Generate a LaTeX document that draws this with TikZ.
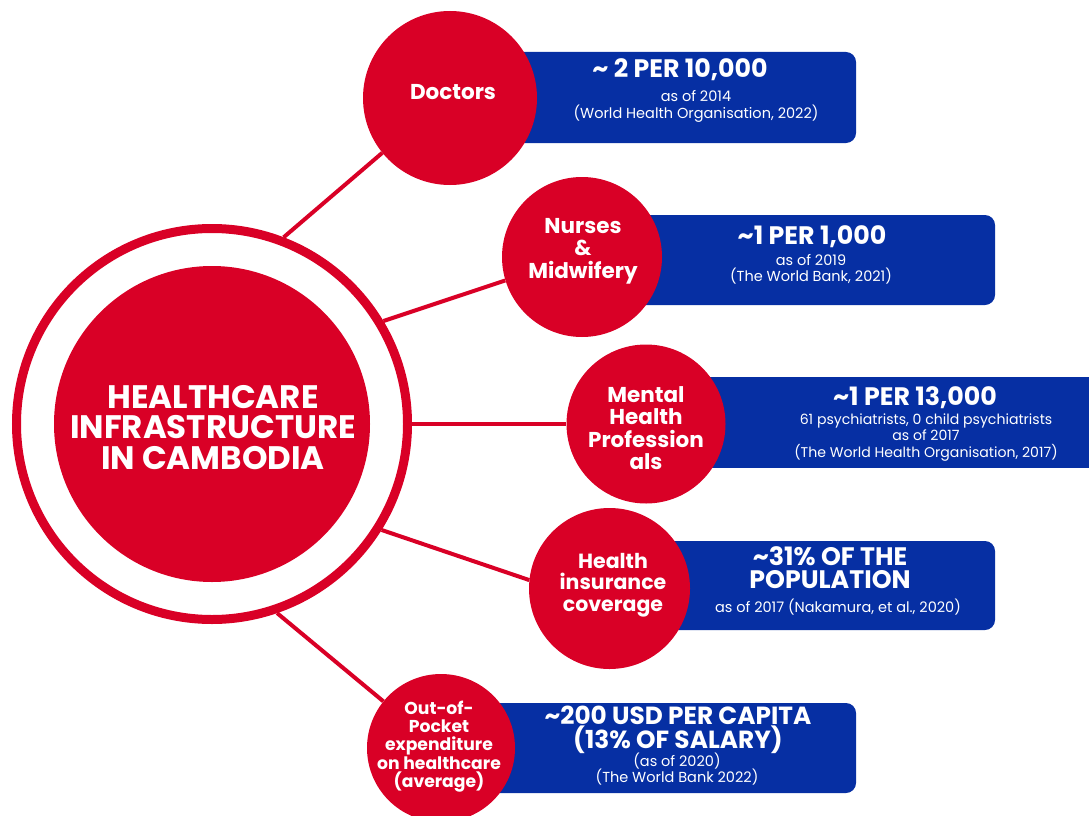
\documentclass[tikz,border=0pt]{standalone}
\usepackage{fontspec}
\setmainfont{Poppins}
\definecolor{cred}{RGB}{217,0,38}
\definecolor{cblue}{RGB}{6,47,163}
\begin{document}
\begin{tikzpicture}[x=1pt,y=-1pt,
  dot/.style={circle,fill=cred,inner sep=0pt},
  lbl/.style={text=white,align=center,inner sep=0pt,font=\fontsize{21.5}{22.5}\selectfont\bfseries},
  conn/.style={draw=cred,line width=4pt},
  panel/.style={fill=cblue,rounded corners=10pt},
  big/.style={text=white,align=center,inner sep=0pt,font=\fontsize{25.3}{23}\selectfont\bfseries},
  small/.style={text=white,align=center,inner sep=0pt,font=\fontsize{14.5}{16.5}\selectfont}]
\useasboundingbox (0,0) rectangle (1089,816);
\clip (0,0) rectangle (1089,816);
% hub
\node[circle,draw=cred,line width=9pt,minimum size=391pt,inner sep=0pt] (hub) at (212,424) {};
\node[dot,minimum size=316pt] (core) at (212,424) {};
\node[text=white,align=center,inner sep=0pt,font=\fontsize{32.5}{30.5}\selectfont\bfseries] (corel) at (213,427.5) {HEALTHCARE\\INFRASTRUCTURE\\IN CAMBODIA};
% coordinates of the satellites
\coordinate (pdoc) at (450,98);
\coordinate (pnur) at (582,257);
\coordinate (pmen) at (646,424);
\coordinate (phi) at (609.5,588.5);
\coordinate (pout) at (441,748);
% panels
\fill[panel] (450,52) rectangle (856,143);
\fill[panel] (582,215) rectangle (995,305);
\fill[cblue] (646,377) rectangle (1100,468);
\fill[panel] (609,541) rectangle (995,630);
\fill[panel] (441,703) rectangle (856,793);
% circles
\node[dot,minimum size=174pt] (doc) at (pdoc) {};
\node[dot,minimum size=160pt] (nur) at (pnur) {};
\node[dot,minimum size=159pt] (men) at (pmen) {};
\node[dot,minimum size=161pt] (hi) at (phi) {};
\node[dot,minimum size=148pt] (out) at (pout) {};
% connectors
\draw[conn] (hub.69.7) -- (doc.219.4);
\draw[conn] (hub.31.3) -- (nur.197.6);
\draw[conn] (hub.0) -- (men.180);
\draw[conn] (hub.-32.7) -- (hi.174);
\draw[conn] (hub.-71) -- (out.141.6);
% circle labels
\node[lbl] (docl) at (453,92) {Doctors};
\node[lbl] (nurl) at (583,251) {Nurses\\\&\\Midwifery};
\node[lbl] (menl) at (646,428) {Mental\\Health\\Profession\\als};
\node[lbl,font=\fontsize{20.5}{21.5}\selectfont\bfseries] (hil) at (613,585) {Health\\insurance\\coverage};
\node[lbl,font=\fontsize{17.2}{18.3}\selectfont\bfseries] (outl) at (439,746.5) {Out-of-\\Pocket\\expenditure\\on healthcare\\(average)};
% panel texts
\node[big] (doct) at (680,70) {\char`~{} 2 PER 10,000};
\node[small] (docs) at (696,106.5) {as of 2014\\(World Health Organisation, 2022)};
\node[big] (nurt) at (812,237) {\char`~1 PER 1,000};
\node[small] (nurs) at (811,269.5) {as of 2019\\(The World Bank, 2021)};
\node[big] (ment) at (915,398) {\char`~1 PER 13,000};
\node[small,font=\fontsize{14.1}{16.5}\selectfont] (mens) at (926,437.5) {61 psychiatrists, 0 child psychiatrists\\as of 2017\\(The World Health Organisation, 2017)};
\node[big] (hit) at (830,567.5) {\char`~31\% OF THE\\POPULATION};
\node[small] (his) at (838,607) {as of 2017 (Nakamura, et al., 2020)};
\node[big,font=\fontsize{24.8}{22}\selectfont\bfseries] (outt) at (678,729.5) {\char`~200 USD PER CAPITA\\(13\% OF SALARY)};
\node[small] (outs) at (677,769) {(as of 2020)\\(The World Bank 2022)};
\end{tikzpicture}
\end{document}
